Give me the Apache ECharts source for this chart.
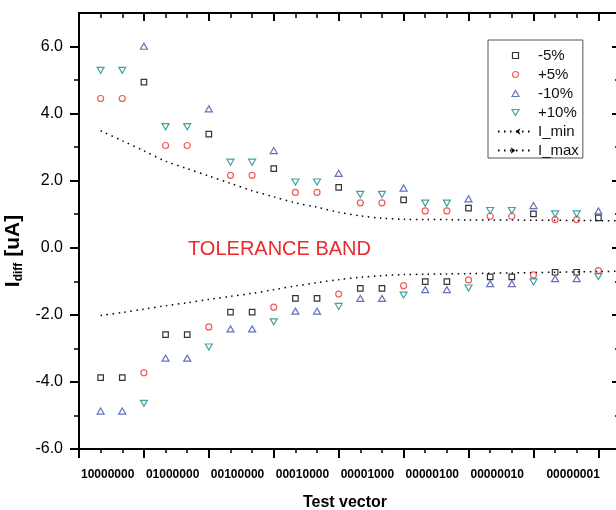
<!DOCTYPE html>
<html>
<head>
<meta charset="utf-8">
<script src="https://cdn.jsdelivr.net/npm/echarts@6/dist/echarts.min.js"></script>
<style>
  html, body { margin: 0; padding: 0; background: #fff; }
  #chart { width: 616px; height: 510px; }
</style>
</head>
<body>
<div id="chart"></div>
<script>
// Test vectors (one label per group of three measurement slots)
const vectorLabels = ['10000000', '01000000', '00100000', '00010000',
                      '00001000', '00000100', '00000010', '00000001'];

// Measurement slots along the x axis
const positions = [1, 2, 3, 4, 5, 6, 7, 8, 9, 10, 11, 12,
                   13, 14, 15, 16, 17, 18, 19, 20, 21, 22, 23, 24];
// Slots used by the tolerance limit curves
const limitPositions = [1, 2, 3, 4, 5, 6, 7, 8, 9, 10, 11, 12, 13,
                        14, 15, 16, 17, 18, 19, 20, 21, 22, 23, 24, 25];

// I_diff [uA] per slot for each supply deviation
const minus5 = [-3.87, -3.87, 4.94, -2.59, -2.59, 3.39, -1.92, -1.92, 2.36, -1.51, -1.51, 1.80,
                -1.21, -1.21, 1.43, -1.01, -1.01, 1.18, -0.87, -0.87, 1.01, -0.73, -0.73, 0.89];
const plus5 = [4.45, 4.45, -3.73, 3.05, 3.05, -2.36, 2.16, 2.16, -1.77, 1.65, 1.65, -1.38,
               1.34, 1.34, -1.13, 1.10, 1.10, -0.96, 0.94, 0.94, -0.81, 0.84, 0.84, -0.68];
const minus10 = [-4.87, -4.87, 6.01, -3.29, -3.29, 4.14, -2.42, -2.42, 2.90, -1.89, -1.89, 2.22,
                 -1.51, -1.51, 1.78, -1.25, -1.25, 1.46, -1.07, -1.07, 1.26, -0.92, -0.92, 1.10];
const plus10 = [5.29, 5.29, -4.64, 3.61, 3.61, -2.96, 2.55, 2.55, -2.21, 1.96, 1.96, -1.75,
                1.59, 1.59, -1.41, 1.33, 1.33, -1.20, 1.11, 1.11, -1.02, 1.01, 1.01, -0.86];

// Tolerance band limits
const iMin = [-2.02, -1.93, -1.83, -1.73, -1.64, -1.54, -1.45, -1.36, -1.25, -1.14, -1.04, -0.95, -0.88,
              -0.83, -0.80, -0.79, -0.78, -0.77, -0.76, -0.75, -0.74, -0.73, -0.72, -0.71, -0.70];
const iMax = [3.49, 3.19, 2.89, 2.58, 2.36, 2.14, 1.92, 1.70, 1.52, 1.34, 1.21, 1.06, 0.95,
              0.88, 0.85, 0.84, 0.84, 0.83, 0.83, 0.83, 0.82, 0.82, 0.81, 0.81, 0.80];

// Tick positions
const xMajorTicks = [0, 3, 6, 9, 12, 15, 18, 21, 24];
const xMinorTicks = [1, 2, 4, 5, 7, 8, 10, 11, 13, 14, 16, 17, 19, 20, 22, 23];
const xLabelTicks = [0, 3, 6, 9, 12, 15, 18, 21];
const yMajorTicks = [-6, -4, -2, 0, 2, 4, 6];
const yMinorTicks = [-5, -3, -1, 1, 3, 5];

const FONT = '"Liberation Sans", Arial, Helvetica, sans-serif';
const X_MIN = 0, X_MAX = 25, Y_MIN = -6, Y_MAX = 7;

const pairs = (xs, ys) => xs.map((x, i) => [x, ys[i]]);

function xAxisDef(position, ticks, len, inside, showLine, width) {
  return {
    type: 'value', gridIndex: 0, position: position, min: X_MIN, max: X_MAX,
    axisLine: { show: showLine, onZero: false, lineStyle: { color: '#000', width: 2 } },
    axisTick: { show: true, inside: inside, length: len, customValues: ticks,
                lineStyle: { color: '#000', width: width } },
    axisLabel: { show: false },
    splitLine: { show: false }
  };
}
function yAxisDef(position, ticks, len, inside, showLine, width) {
  return {
    type: 'value', gridIndex: 0, position: position, min: Y_MIN, max: Y_MAX,
    axisLine: { show: showLine, onZero: false, lineStyle: { color: '#000', width: 2 } },
    axisTick: { show: true, inside: inside, length: len, customValues: ticks,
                lineStyle: { color: '#000', width: width } },
    axisLabel: { show: false },
    splitLine: { show: false }
  };
}

// Bottom axis: test vector names, major ticks, title
const xBottom = xAxisDef('bottom', xMajorTicks, 9, false, true, 2);
xBottom.axisLabel = {
  show: true,
  customValues: xLabelTicks,
  margin: 20,
  align: 'left',
  color: '#000',
  fontFamily: FONT,
  fontSize: 12,
  fontWeight: 'bold',
  formatter: function (v) {
    const idx = Math.round(v / 3);
    const txt = vectorLabels[idx] || '';
    return idx === vectorLabels.length - 1 ? '{last|' + txt + '}' : '{std|' + txt + '}';
  },
  rich: {
    std: { fontFamily: FONT, fontSize: 12, fontWeight: 'bold', color: '#000', padding: [0, 0, 0, 2] },
    last: { fontFamily: FONT, fontSize: 12, fontWeight: 'bold', color: '#000', padding: [0, 0, 0, 13] }
  }
};
xBottom.name = 'Test vector';
xBottom.nameLocation = 'middle';
xBottom.nameGap = 46;
xBottom.nameTextStyle = {
  fontFamily: FONT, fontSize: 16, fontWeight: 'bold', color: '#000',
  lineHeight: 16, padding: [0, 9, 0, 0]
};

// Left axis: values, major ticks, title
const yLeft = yAxisDef('left', yMajorTicks, 9, false, true, 2);
yLeft.axisLabel = {
  show: true,
  customValues: yMajorTicks,
  margin: 16,
  color: '#000',
  fontFamily: FONT,
  fontSize: 16,
  formatter: function (v) { return v.toFixed(1); }
};
yLeft.name = '{b|I}{s|diff}{b| [uA]}';
yLeft.nameLocation = 'middle';
yLeft.nameRotate = 90;
yLeft.nameGap = 45;
yLeft.nameTextStyle = {
  fontFamily: FONT, fontWeight: 'bold', color: '#000',
  padding: [0, 40, 0, 0],
  rich: {
    b: { fontFamily: FONT, fontSize: 21, fontWeight: 'bold', color: '#000', lineHeight: 22 },
    s: { fontFamily: FONT, fontSize: 12, fontWeight: 'bold', color: '#000', lineHeight: 14, verticalAlign: 'bottom' }
  }
};

function scatterSeries(name, values, symbol, size, color) {
  return {
    name: name,
    type: 'scatter',
    xAxisIndex: 0,
    yAxisIndex: 0,
    data: pairs(positions, values),
    symbol: symbol,
    symbolSize: size,
    symbolKeepAspect: true,
    itemStyle: { color: 'rgba(0,0,0,0)', borderColor: color, borderWidth: 1.2 },
    emphasis: { disabled: true },
    z: 3
  };
}

function limitSeries(name, values, rotate) {
  return {
    name: name,
    type: 'line',
    xAxisIndex: 0,
    yAxisIndex: 0,
    data: pairs(limitPositions, values),
    smooth: 0.3,
    symbol: 'arrow',
    symbolRotate: rotate,
    showSymbol: false,
    itemStyle: { color: '#000' },
    lineStyle: { color: '#000', width: 1.5, type: [1.5, 4.5] },
    emphasis: { disabled: true },
    z: 2
  };
}

// Marker outlines (paths keep a square / equilateral shape in the legend too)
const SQUARE = 'path://M0,0L10,0L10,10L0,10Z';
const TRI_UP = 'path://M5,0L10,8.66L0,8.66Z';
const TRI_DOWN = 'path://M0,0L10,0L5,8.66Z';

const option = {
  animation: false,
  backgroundColor: '#fff',
  grid: { left: 79, top: 13, width: 541, height: 436, containLabel: false, outerBoundsMode: 'none' },
  xAxis: [
    xBottom,
    xAxisDef('bottom', xMinorTicks, 4, false, false, 1.5),
    xAxisDef('top', xMajorTicks, 8, true, true, 2),
    xAxisDef('top', xMinorTicks, 5, true, false, 1.5)
  ],
  yAxis: [
    yLeft,
    yAxisDef('left', yMinorTicks, 5, false, false, 1.5),
    yAxisDef('right', yMajorTicks, 8, true, true, 2),
    yAxisDef('right', yMinorTicks, 5, true, false, 1.5)
  ],
  legend: {
    orient: 'vertical',
    left: 488,
    top: 40,
    padding: [8, 4, 0, 9],
    itemGap: 4,
    itemWidth: 35,
    itemHeight: 6,
    symbolKeepAspect: true,
    selectedMode: false,
    borderColor: '#555',
    borderWidth: 1,
    backgroundColor: '#fff',
    itemStyle: { borderWidth: 1.2 },
    textStyle: { fontFamily: FONT, fontSize: 15, color: '#111', lineHeight: 15 },
    data: ['-5%', '+5%', '-10%', '+10%', 'I_min', 'I_max']
  },
  graphic: [
    {
      type: 'text',
      x: 188,
      y: 249,
      silent: true,
      style: {
        text: 'TOLERANCE BAND',
        fill: '#ec2a2e',
        fontFamily: FONT,
        fontSize: 20,
        verticalAlign: 'middle'
      }
    }
  ],
  series: [
    scatterSeries('-5%', minus5, SQUARE, 5.5, '#000000'),
    scatterSeries('+5%', plus5, 'circle', 6, '#f03232'),
    scatterSeries('-10%', minus10, TRI_UP, 7, '#3c4fae'),
    scatterSeries('+10%', plus10, TRI_DOWN, 7, '#138a8a'),
    limitSeries('I_min', iMin, 90),
    limitSeries('I_max', iMax, -90)
  ]
};

const chart = echarts.init(document.getElementById('chart'), null, { renderer: 'canvas' });
chart.setOption(option);
</script>
</body>
</html>
